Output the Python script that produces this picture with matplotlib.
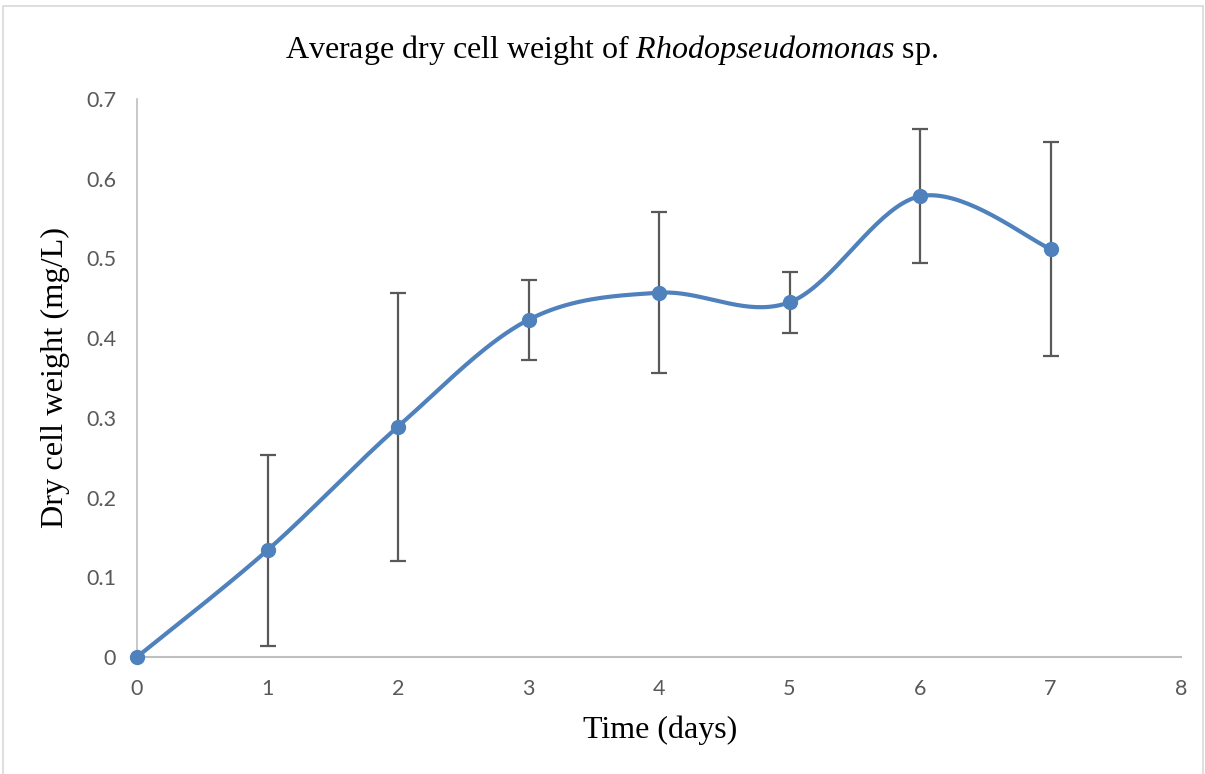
import numpy as np
import matplotlib
matplotlib.use("Agg")
import matplotlib.pyplot as plt
from matplotlib.patches import Rectangle

days = [0, 1, 2, 3, 4, 5, 6, 7]
dcw = [0.0, 0.134, 0.289, 0.423, 0.457, 0.445, 0.578, 0.512]
err = [0.0, 0.120, 0.168, 0.050, 0.101, 0.038, 0.084, 0.134]
xticks = [0, 1, 2, 3, 4, 5, 6, 7, 8]
yticks = [0, 0.1, 0.2, 0.3, 0.4, 0.5, 0.6, 0.7]
ytick_labels = ["0", "0.1", "0.2", "0.3", "0.4", "0.5", "0.6", "0.7"]

plt.rcParams["mathtext.fontset"] = "custom"
plt.rcParams["mathtext.rm"] = "Liberation Serif"
plt.rcParams["mathtext.it"] = "Liberation Serif:italic"


def smooth(x, y, n=40):
    # Catmull-Rom style Bezier smoothing (as Excel's smoothed line)
    x = np.asarray(x, float); y = np.asarray(y, float)
    P = np.column_stack([x, y])
    out = []
    for i in range(len(P) - 1):
        p0 = P[i - 1] if i > 0 else P[i]
        p1 = P[i]; p2 = P[i + 1]
        p3 = P[i + 2] if i + 2 < len(P) else P[i + 1]
        c1 = p1 + (p2 - p0) / 6.0
        c2 = p2 - (p3 - p1) / 6.0
        t = np.linspace(0, 1, n)[:, None]
        seg = ((1 - t) ** 3) * p1 + 3 * ((1 - t) ** 2) * t * c1 + 3 * (1 - t) * t ** 2 * c2 + t ** 3 * p2
        out.append(seg if i == 0 else seg[1:])
    s = np.vstack(out)
    return s[:, 0], s[:, 1]


W, H = 1205, 774
fig = plt.figure(figsize=(W / 100, H / 100), dpi=100)
fig.patches.append(Rectangle((3 / W, -0.01), (W - 5) / W, (H - 8 + 10) / H, transform=fig.transFigure,
                             fill=False, edgecolor="#d9d9d9", linewidth=1.2))
ax = fig.add_axes([137 / W, 1 - 657 / H, (1181 - 137) / W, (657 - 99) / H])

color = "#4F81BD"
sx, sy = smooth(days, dcw)
ax.plot(sx, sy, color=color, linewidth=3, zorder=3, solid_capstyle="round")
ax.errorbar(days, dcw, yerr=err, fmt="none", ecolor="#595959", elinewidth=1.6,
            capsize=6, capthick=1.6, zorder=2)
ax.plot(days, dcw, "o", color=color, markersize=10, zorder=4, clip_on=False)

ax.set_xlim(0, 8)
ax.set_ylim(0, 0.7)
ax.set_xticks(xticks)
ax.set_yticks(yticks)
ax.set_yticklabels(ytick_labels)
for s in ["top", "right"]:
    ax.spines[s].set_visible(False)
ax.spines["left"].set_color("#bfbfbf")
ax.spines["bottom"].set_color("#bfbfbf")
ax.spines["left"].set_linewidth(1.2)
ax.spines["bottom"].set_linewidth(1.5)
ax.tick_params(axis="both", length=0, labelsize=15.5, labelcolor="#595959")
ax.tick_params(axis="x", pad=16)
ax.tick_params(axis="y", pad=15)
for lab in ax.get_xticklabels() + ax.get_yticklabels():
    lab.set_fontfamily("Lato")

fig.text(612 / W, 1 - 50 / H,
         r"Average dry cell weight of $\mathit{Rhodopseudomonas}$ sp.",
         ha="center", va="center", fontsize=23, family="Liberation Serif")
fig.text((584 + 737) / 2 / W, 1 - 730 / H, "Time (days)", ha="center", va="center",
         fontsize=23, family="Liberation Serif")
fig.text(55 / W, 1 - 378 / H, "Dry cell weight (mg/L)", ha="center", va="center",
         rotation=90, fontsize=23.3, family="Liberation Serif")

fig.savefig("out.png", dpi=100)
